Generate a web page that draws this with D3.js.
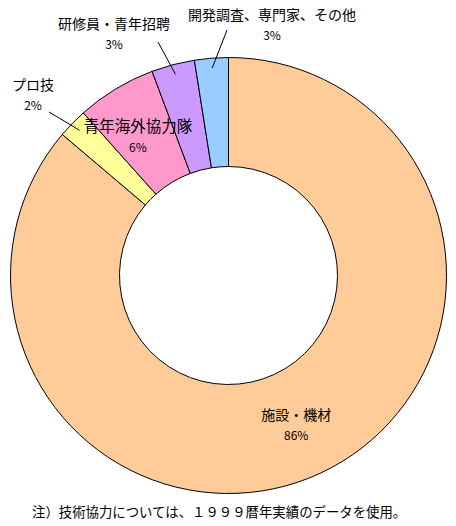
<!DOCTYPE html>
<html>
<head>
<meta charset="utf-8">
<script src="https://cdn.jsdelivr.net/npm/d3@7"></script>
<style>
  html, body { margin: 0; padding: 0; background: #fff; }
  svg text { font-family: "Noto Sans CJK JP", "Noto Sans", sans-serif; fill: #000; }
</style>
</head>
<body>
<svg id="chart" width="456" height="526"></svg>
<script>
// data (share of total, %)
const categories = ['施設・機材', 'プロ技', '青年海外協力隊', '研修員・青年招聘', '開発調査、専門家、その他'];
const values = [86.2, 2.2, 5.9, 3.2, 2.5];
const pctLabels = ['86%', '2%', '6%', '3%', '3%'];
const colors = ['#FFCC99', '#FFFF99', '#FF99CC', '#CC99FF', '#99CCFF'];
const note = '注）技術協力については、１９９９暦年実績のデータを使用。';

(function () {
  const CX = 228.5, CY = 275.5;
  const R_OUT = 218, R_IN = 109;

  // outside labels: where the text sits (null = inside the slice)
  const outside = [null, { x: 33, y: 85 }, null, { x: 114, y: 24 }, { x: 272, y: 15 }];
  const lineFrom = [null, { x: 49, y: 112 }, null, { x: 158, y: 42 }, { x: 227, y: 30 }];

  const svg = d3.select('#chart');
  const g = svg.append('g').attr('transform', `translate(${CX},${CY})`);

  const pie = d3.pie().sort(null).value((d) => d)(values);
  const arc = d3.arc().innerRadius(R_IN).outerRadius(R_OUT);
  const lead = d3.arc().innerRadius(208).outerRadius(208);

  g.selectAll('path.slice')
    .data(pie)
    .join('path')
    .attr('class', 'slice')
    .attr('d', arc)
    .attr('fill', (d, i) => colors[i])
    .attr('stroke', '#000')
    .attr('stroke-width', 1)
    .attr('stroke-linejoin', 'round');

  pie.forEach(function (d, i) {
    const o = outside[i];
    if (!o) {
      const [x, y] = arc.centroid(d);
      const ox = i === 2 ? -6 : -1;
      g.append('text').attr('x', x + ox).attr('y', y - 4)
        .attr('text-anchor', 'middle').attr('font-size', i === 2 ? 15.5 : 14)
        .text(categories[i]);
      g.append('text').attr('x', x + ox).attr('y', y + 16)
        .attr('text-anchor', 'middle').attr('font-size', 12)
        .text(pctLabels[i]);
      return;
    }
    const [lx, ly] = lead.centroid(d);
    svg.append('line')
      .attr('x1', lineFrom[i].x).attr('y1', lineFrom[i].y)
      .attr('x2', CX + lx).attr('y2', CY + ly)
      .attr('stroke', '#000').attr('stroke-width', 1);
    svg.append('text').attr('x', o.x).attr('y', o.y + 5)
      .attr('text-anchor', 'middle').attr('font-size', 14)
      .text(categories[i]);
    svg.append('text').attr('x', o.x).attr('y', o.y + 25)
      .attr('text-anchor', 'middle').attr('font-size', 12)
      .text(pctLabels[i]);
  });

  svg.append('text')
    .attr('x', 32).attr('y', 517)
    .attr('font-size', 13.4)
    .text(note);
})();
</script>
</body>
</html>
